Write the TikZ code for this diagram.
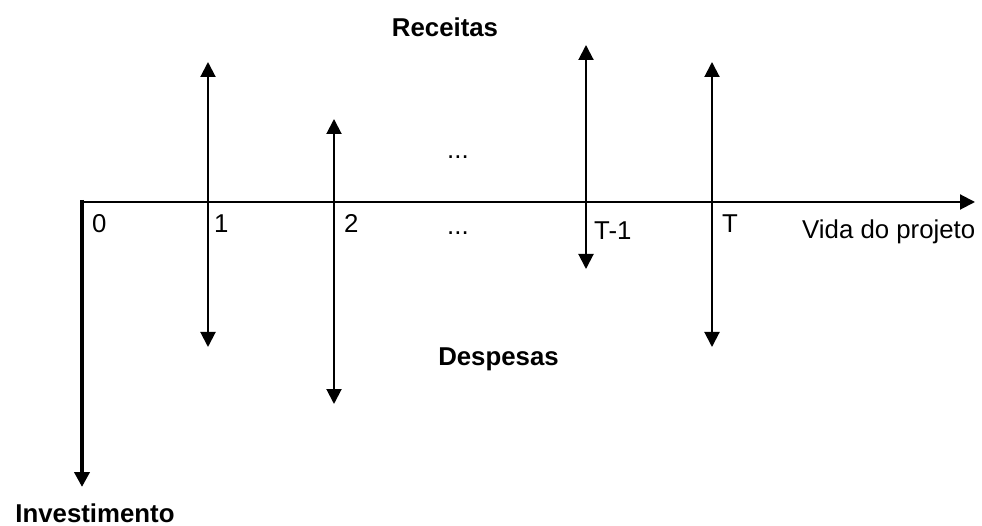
\documentclass[tikz,border=0pt]{standalone}
\usepackage{fontspec}
\setmainfont{Liberation Sans}
\usetikzlibrary{arrows.meta}
\begin{document}
\begin{tikzpicture}[x=1pt,y=-1pt,
  tip/.tip={Triangle[width=15pt,length=15pt]},
  lbl/.style={inner sep=0pt, anchor=base west, font=\fontsize{25.8}{30}\selectfont},
  blbl/.style={inner sep=0pt, anchor=base, font=\fontsize{25.8}{30}\selectfont\bfseries},
  flow/.style={line width=2pt, tip-tip},
  axisline/.style={line width=2pt, -tip},
  invline/.style={line width=4pt, -tip}]
\useasboundingbox (0,0) rectangle (982,526);
% coordinates
\coordinate (axS) at (80,202);
\coordinate (axE) at (975,202);
\coordinate (invS) at (82,200);
\coordinate (invE) at (82,487);
\coordinate (f1t) at (208,62);  \coordinate (f1b) at (208,347);
\coordinate (f2t) at (334,119); \coordinate (f2b) at (334,404);
\coordinate (f3t) at (586,45);  \coordinate (f3b) at (586,269);
\coordinate (f4t) at (712,62);  \coordinate (f4b) at (712,347);
% lines
\draw[axisline] (axS) -- (axE);
\draw[invline] (invS) -- (invE);
\draw[flow] (f1b) -- (f1t);
\draw[flow] (f2b) -- (f2t);
\draw[flow] (f3b) -- (f3t);
\draw[flow] (f4b) -- (f4t);
% labels
\node[lbl] (l0) at (92,233) {0};
\node[lbl] (l1) at (214,233) {1};
\node[lbl] (l2) at (344,233) {2};
\node[lbl] (ldb) at (447,235) {...};
\node[lbl] (ldt) at (447,159) {...};
\node[lbl] (lT1) at (594,240) {T-1};
\node[lbl] (lT) at (722,233) {T};
\node[lbl] (lvida) at (802,239) {Vida do projeto};
\node[blbl] (rec) at (445,37) {Receitas};
\node[blbl] (desp) at (498.5,366) {Despesas};
\node[blbl, text depth=0pt] (inv) at (95,522) {Investimento};
\end{tikzpicture}
\end{document}
